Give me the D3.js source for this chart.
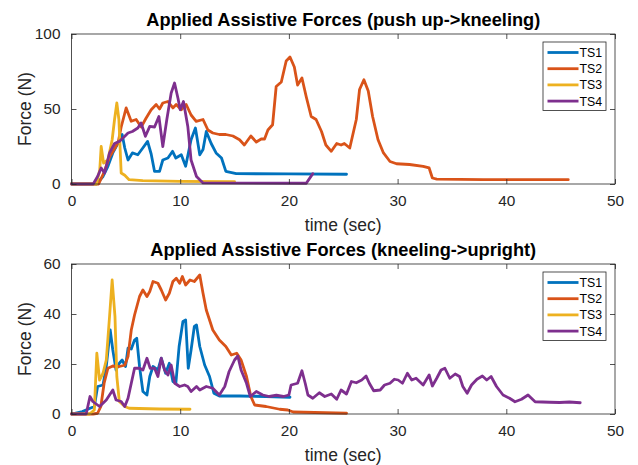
<!DOCTYPE html>
<html lang="en">
<head>
  <meta charset="UTF-8">
  <script src="https://d3js.org/d3.v7.min.js"></script>
  <style>
    body {
      background-color: #fff;
      margin: 0;
      overflow: hidden;
    }

    svg {
      font-family: Arial, "Liberation Sans", Helvetica, sans-serif;
    }

    .line {
      fill: none;
      stroke-width: 2.8;
      stroke-linejoin: round;
      stroke-linecap: round;
    }
  </style>
</head>
<body>

<svg width="638" height="465"></svg>

<script>
  // series names + matlab default colors
  const seriesNames = ['TS1', 'TS2', 'TS3', 'TS4'];
  const seriesColors = ['#0072BD', '#D95319', '#EDB120', '#7E2F8E'];

  const xTicks = [0, 10, 20, 30, 40, 50];
  const topYTicks = [0, 50, 100];
  const bottomYTicks = [0, 20, 40, 60];

  // push up -> kneeling, [time, force]
  const topTS1 = [[0,0],[2.3,0],[2.9,5],[3.35,11.8],[3.8,20.7],[4.26,27],[4.66,33],[4.9,24],[5.2,16],[5.6,20.7],
    [6.1,19.5],[6.56,24],[7.0,28.4],[7.33,20],[7.64,8.4],[8.1,8.4],[8.4,16],[8.87,17.3],[9.3,21.8],[9.6,17.3],
    [10.1,19.5],[10.5,11.8],[11.0,29.5],[11.4,37.3],[11.8,19.5],[12.1,23],[12.4,35],[12.85,27],[13.3,20.7],
    [13.8,17.3],[14.2,8.4],[15.15,6.9],[20,6.7],[25.3,6.5]];
  const topTS2 = [[0,0],[2.5,0],[3.0,8],[3.5,18],[4.0,24],[4.3,28],[4.57,38],[5.03,50.7],[5.49,41.8],[5.95,43],
    [6.41,38],[6.87,44],[7.33,49.5],[7.79,53],[8.1,50],[8.4,54],[8.87,55],[9.33,50.7],[9.63,53],[10.1,49.5],
    [10.55,53],[11.0,46],[11.47,41.8],[12.1,43],[12.55,36],[13.0,34],[13.6,33],[14.2,33],[14.85,32],[15.46,29.5],
    [15.9,26],[16.5,32],[17.0,28],[17.45,30],[17.76,30],[18.07,36],[18.5,39.5],[18.83,65],[19.3,68],[19.75,82],
    [20.1,84.7],[20.5,78],[20.8,66],[21.2,70.7],[21.6,58],[22.05,45],[22.5,43],[23.0,35],[23.4,26],[23.9,21.8],
    [24.4,27],[24.8,26],[25.1,27],[25.6,24],[26.2,43],[26.5,63],[26.9,69.5],[27.3,62],[27.7,45],[28.2,29.5],
    [28.7,20.7],[29.3,15],[29.9,13.5],[31.1,13],[32.35,11.8],[32.9,10.7],[33.2,4],[33.6,3.3],[37.9,2.9],[45.7,2.9]];
  const topTS3 = [[0,0],[2.3,0],[2.6,9.5],[2.73,25],[2.95,14],[3.35,16],[3.74,29.5],[3.96,43],[4.17,54],[4.36,43],
    [4.57,7.3],[4.9,5.8],[5.3,2.9],[6.56,2.2],[10,1.8],[15.0,1.5]];
  const topTS4 = [[0,0],[2.0,0],[2.4,5],[2.73,10.7],[3.04,7.3],[3.5,20.7],[3.96,27],[4.4,28.4],[4.9,31.8],[5.2,34],
    [5.6,35],[6.1,37.3],[6.4,40.7],[6.8,31.8],[7.2,38.4],[7.64,38],[8.04,45],[8.4,25],[8.77,43],[9.17,60.7],
    [9.48,67.3],[9.8,57],[10.0,49.5],[10.3,55],[10.7,38.4],[11.0,16],[11.5,5],[12.1,0.7],[21.6,0.5],[22.2,6.9]];

  // kneeling -> upright
  const botTS1 = [[0,0],[1.0,1],[2.1,3],[2.4,11],[2.9,11.6],[3.2,19],[3.56,33.6],[3.8,25.6],[4.1,17.6],[4.4,20.3],
    [4.66,21.6],[4.97,19],[5.2,26.3],[5.5,26],[5.8,29.6],[6.0,30.3],[6.26,19],[6.57,9],[6.94,7.6],[7.2,15],
    [7.5,19],[7.95,17.6],[8.26,22.3],[8.66,16.3],[9.0,20.3],[9.33,13],[9.6,12.3],[9.9,27],[10.25,37],[10.5,37.6],
    [10.74,18.3],[11.0,25.6],[11.3,35],[11.5,35.6],[11.8,27],[12.25,19.6],[12.7,15],[13.1,8.3],[13.6,7.2],
    [15.5,7.2],[17.9,7],[20.1,6.7]];
  const botTS2 = [[0,0],[2.0,0],[2.4,0.3],[2.7,3],[3.0,12.3],[3.35,18.3],[3.8,19.2],[4.4,19],[4.9,19.5],[5.2,23],
    [5.5,33.6],[5.8,39.6],[6.26,47],[6.57,49.6],[6.94,47],[7.2,49],[7.5,53],[7.95,52.3],[8.26,49.6],[8.66,45.6],
    [9.0,48.3],[9.33,53],[9.64,54.3],[9.95,52.3],[10.2,55],[10.5,51.6],[10.9,53.6],[11.3,53],[11.8,55.6],
    [12.1,48.3],[12.4,41.6],[13.0,33.6],[13.6,29.6],[14.2,27],[14.7,23.6],[15.2,24.3],[15.6,21.6],[16.1,15],
    [16.5,7],[16.85,3.6],[17.9,3],[19.15,1.9],[19.9,1.6],[20.4,0.8],[25.3,0.3]];
  const botTS3 = [[0,0],[1.66,0],[2.1,1.6],[2.33,24.3],[2.58,13.6],[2.9,16.3],[3.2,21.6],[3.5,39],[3.74,53.6],
    [4.0,39],[4.17,15],[4.4,5],[4.9,3],[5.3,2.3],[8.1,2],[10.9,1.9]];
  const botTS4 = [[0,0],[1.35,0],[1.7,7],[1.96,5],[2.58,3],[3.2,5.6],[3.8,9.6],[4.1,5.6],[4.57,5],[4.9,3],[5.2,6.3],
    [5.5,12.3],[5.8,18.3],[6.26,18.3],[6.57,17.6],[6.94,22.3],[7.24,18.3],[7.64,18.3],[7.95,15],[8.26,22.3],
    [8.56,17.6],[8.87,15.6],[9.17,19.6],[9.5,12.3],[9.95,11],[10.4,11.6],[10.7,11],[11.0,9],[11.5,11],[11.8,9.6],
    [12.4,11],[13.0,10.3],[13.6,7.6],[14.1,11],[14.5,17],[15.0,21.6],[15.3,23.2],[15.6,17.6],[16.1,12.3],
    [16.45,7],[17.0,9],[17.6,7.6],[18.2,7],[18.85,7.5],[19.5,7],[20.0,7.6],[20.2,11.6],[20.8,12.3],[21.2,17.3],
    [21.5,12.3],[21.75,7.6],[22.2,6.3],[22.8,8.5],[23.3,7],[23.9,8],[24.4,5.9],[24.8,9.6],[25.3,8],[25.75,13],
    [26.2,12.5],[26.7,13.6],[27.1,15.2],[27.4,12.3],[27.8,9.3],[28.4,9.6],[28.8,11.6],[29.3,12.3],[29.7,13.9],
    [30.05,13.6],[30.45,12.3],[30.9,16.3],[31.3,13.6],[31.7,14.3],[32.35,11.6],[32.9,15.6],[33.2,11.2],
    [33.6,14.3],[34.0,17.6],[34.35,18.3],[34.8,14.3],[35.3,16],[35.7,15],[36.0,11],[36.4,8.3],[36.8,11.6],
    [37.3,13.9],[37.8,15.2],[38.2,13.6],[38.6,15],[39.1,11],[39.7,7.6],[40.3,6.3],[40.8,4.9],[41.4,5.9],
    [42.0,7.6],[42.65,4.9],[44.0,4.7],[44.9,4.6],[45.8,4.8],[46.8,4.5]];

  const svg = d3.select('svg');
  const axisColor = '#262626';

  const left = 71.5, right = 615;

  const x = d3.scaleLinear().domain([0, 50]).range([left, right]);

  function drawPanel(opts) {
    const { top, bottom, yMax, yTicks, title, series } = opts;
    const y = d3.scaleLinear().domain([0, yMax]).range([bottom, top]);
    const g = svg.append('g');

    // lines
    const line = d3.line().x(d => x(d[0])).y(d => y(d[1]));
    series.forEach((s, i) => {
      g.append('path')
        .attr('class', 'line')
        .attr('stroke', seriesColors[i])
        .attr('d', line(s));
    });

    // box
    g.append('rect')
      .attr('x', left).attr('y', top)
      .attr('width', right - left).attr('height', bottom - top)
      .attr('fill', 'none').attr('stroke', axisColor).attr('stroke-width', 0.8);

    // axes with inward ticks
    g.append('g').attr('transform', `translate(0,${bottom})`)
      .call(d3.axisBottom(x).tickValues(xTicks).tickSizeInner(-5).tickSizeOuter(0).tickPadding(11));
    g.append('g').attr('transform', `translate(0,${top})`)
      .call(d3.axisTop(x).tickValues(xTicks).tickSizeInner(-5).tickSizeOuter(0).tickFormat(''));
    g.append('g').attr('transform', `translate(${left},0)`)
      .call(d3.axisLeft(y).tickValues(yTicks).tickSizeInner(-5).tickSizeOuter(0).tickPadding(11));
    g.append('g').attr('transform', `translate(${right},0)`)
      .call(d3.axisRight(y).tickValues(yTicks).tickSizeInner(-5).tickSizeOuter(0).tickFormat(''));

    g.selectAll('.domain').remove();
    g.selectAll('.tick line').attr('stroke', axisColor).attr('stroke-width', 0.8);
    g.selectAll('.tick text').attr('fill', axisColor).attr('font-size', 15.4)
      .attr('font-family', 'Arial, "Liberation Sans", sans-serif');

    // title
    g.append('text')
      .attr('x', (left + right) / 2).attr('y', top - 8)
      .attr('text-anchor', 'middle')
      .attr('font-weight', 'bold').attr('font-size', 18.2)
      .attr('fill', '#000')
      .text(title);

    // axis labels
    g.append('text')
      .attr('x', (left + right) / 2).attr('y', bottom + 47)
      .attr('text-anchor', 'middle')
      .attr('font-size', 17.5).attr('fill', axisColor)
      .text('time (sec)');
    g.append('text')
      .attr('transform', `translate(31,${(top + bottom) / 2}) rotate(-90)`)
      .attr('text-anchor', 'middle')
      .attr('font-size', 17.5).attr('fill', axisColor)
      .text('Force (N)');

    // legend
    const lg = g.append('g').attr('transform', `translate(543,${top + 8})`);
    lg.append('rect')
      .attr('width', 63).attr('height', 68.5)
      .attr('fill', '#fff').attr('stroke', axisColor).attr('stroke-width', 0.8);
    seriesNames.forEach((name, i) => {
      const ly = 10.5 + i * 16.2;
      lg.append('line')
        .attr('x1', 4.5).attr('x2', 35.5).attr('y1', ly).attr('y2', ly)
        .attr('stroke', seriesColors[i]).attr('stroke-width', 2.8);
      lg.append('text')
        .attr('x', 36.5).attr('y', ly + 4.5)
        .attr('font-size', 12.3).attr('fill', '#000')
        .text(name);
    });
  }

  drawPanel({
    top: 34, bottom: 184, yMax: 100, yTicks: topYTicks,
    title: 'Applied Assistive Forces (push up->kneeling)',
    series: [topTS1, topTS2, topTS3, topTS4]
  });

  drawPanel({
    top: 264, bottom: 414, yMax: 60, yTicks: bottomYTicks,
    title: 'Applied Assistive Forces (kneeling->upright)',
    series: [botTS1, botTS2, botTS3, botTS4]
  });
</script>

</body>
</html>
